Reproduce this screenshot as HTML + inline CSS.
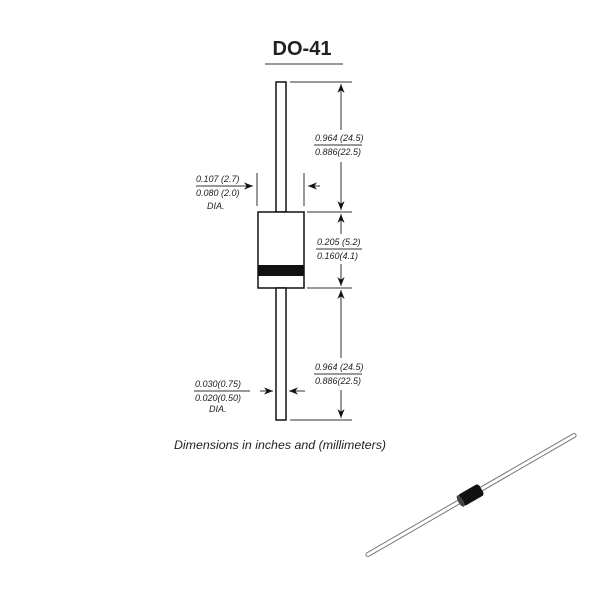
<!DOCTYPE html>
<html><head><style>
body{margin:0;background:#fff;}
svg{display:block;}
text{font-family:"Liberation Sans",sans-serif;}
.d{font-size:9px;font-style:italic;fill:#222;}
</style></head><body>
<svg width="600" height="600" viewBox="0 0 600 600">
<defs>
<marker id="a" viewBox="0 0 10 10" refX="10" refY="5" markerWidth="9" markerHeight="9" orient="auto-start-reverse"><path d="M0,1 L10,5 L0,9 L3,5z" fill="#111"/></marker>
</defs>
<text x="302" y="55" text-anchor="middle" font-size="20" font-weight="bold" fill="#222">DO-41</text>
<line x1="265" y1="64" x2="343" y2="64" stroke="#333" stroke-width="1"/>
<g stroke="#111" stroke-width="1.5" fill="#fff">
<rect x="276" y="82" width="10" height="130"/>
<rect x="258" y="212" width="46" height="76"/>
<rect x="276" y="288" width="10" height="132"/>
</g>
<rect x="258" y="265" width="46" height="11" fill="#111"/>
<g stroke="#333" stroke-width="1">
<line x1="290" y1="82" x2="352" y2="82"/>
<line x1="307" y1="212" x2="352" y2="212"/>
<line x1="307" y1="288" x2="352" y2="288"/>
<line x1="290" y1="420" x2="352" y2="420"/>
<line x1="341" y1="84" x2="341" y2="130" marker-start="url(#a)"/>
<line x1="341" y1="162" x2="341" y2="210" marker-end="url(#a)"/>
<line x1="341" y1="214" x2="341" y2="234" marker-start="url(#a)"/>
<line x1="341" y1="264" x2="341" y2="286" marker-end="url(#a)"/>
<line x1="341" y1="290" x2="341" y2="358" marker-start="url(#a)"/>
<line x1="341" y1="390" x2="341" y2="418" marker-end="url(#a)"/>
<line x1="257" y1="173" x2="257" y2="206"/>
<line x1="304" y1="173" x2="304" y2="206"/>
<line x1="241" y1="186" x2="253" y2="186" marker-end="url(#a)"/>
<line x1="320" y1="186" x2="308" y2="186" marker-end="url(#a)"/>
<line x1="260" y1="391" x2="273" y2="391" marker-end="url(#a)"/>
<line x1="305" y1="391" x2="289" y2="391" marker-end="url(#a)"/>
<line x1="314" y1="145" x2="362" y2="145"/>
<line x1="316" y1="249" x2="362" y2="249"/>
<line x1="314" y1="374" x2="362" y2="374"/>
<line x1="196" y1="186" x2="242" y2="186"/>
<line x1="194" y1="391" x2="250" y2="391"/>
</g>
<text class="d" x="315" y="141">0.964 (24.5)</text>
<text class="d" x="315" y="155">0.886(22.5)</text>
<text class="d" x="317" y="245">0.205 (5.2)</text>
<text class="d" x="317" y="259">0.160(4.1)</text>
<text class="d" x="315" y="370">0.964 (24.5)</text>
<text class="d" x="315" y="384">0.886(22.5)</text>
<text class="d" x="196" y="182">0.107 (2.7)</text>
<text class="d" x="196" y="196">0.080 (2.0)</text>
<text class="d" x="207" y="209">DIA.</text>
<text class="d" x="195" y="387">0.030(0.75)</text>
<text class="d" x="195" y="401">0.020(0.50)</text>
<text class="d" x="209" y="412">DIA.</text>
<text x="280" y="449" text-anchor="middle" font-size="12.4" font-style="italic" fill="#222">Dimensions in inches and (millimeters)</text>
<g transform="translate(471,495) rotate(-30)">
<rect x="-121" y="-2" width="242" height="4" rx="2" fill="#fff" stroke="#777" stroke-width="1"/>
<rect x="-12" y="-6.5" width="24" height="13" rx="3" fill="#111"/>
<ellipse cx="-12" cy="0" rx="2.5" ry="6.5" fill="#444"/>
</g>
</svg>
</body></html>
